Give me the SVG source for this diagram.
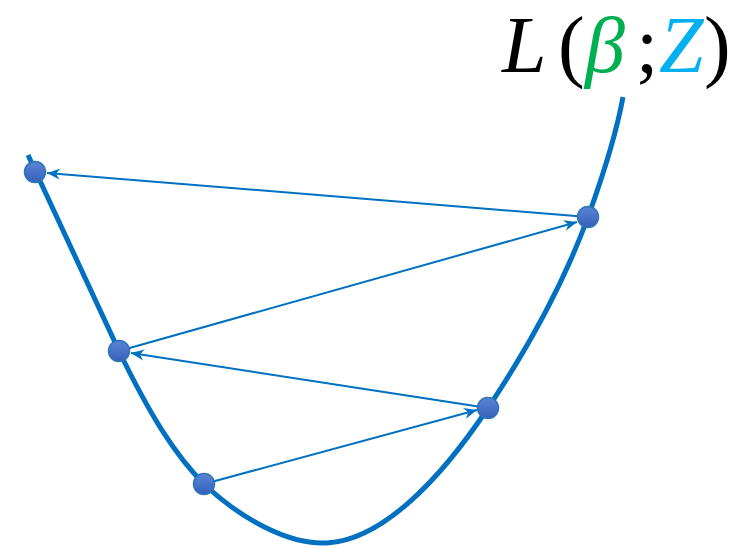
<svg xmlns="http://www.w3.org/2000/svg" width="740" height="548" viewBox="0 0 740 548">
<style>
.curve{fill:none;stroke:#0070C0;stroke-width:5;stroke-linecap:butt}
.arrow{fill:none;stroke:#0070C0;stroke-width:2;marker-end:url(#ah)}
.ball{fill:url(#bg);stroke:#2E75B6;stroke-width:1.5}
.t{font-family:"Liberation Serif","DejaVu Serif",serif;font-size:80px}
.i{font-style:italic}
</style>
<defs>
<linearGradient id="bg" x1="0" y1="0" x2="0" y2="1">
<stop offset="0" stop-color="#5A85D8"/>
<stop offset="1" stop-color="#3560B8"/>
</linearGradient>
<marker id="ah" markerUnits="userSpaceOnUse" markerWidth="14" markerHeight="12" refX="13" refY="6" orient="auto">
<path d="M0,0.5 L13,6 L0,11.5 L4,6 z" fill="#0070C0"/>
</marker>
</defs>
<g id="curve">
<path class="curve" d="M28,155 C60,225 90,290 119,351 C150,415 175,455 204,484 C240,518 288,545 327,543 C382,540 440,480 488,408 C530,345 565,280 588,217 C605,170 617,130 623,97"/>
</g>
<g id="connectors">
<line class="arrow" x1="588" y1="217" x2="47" y2="173"/>
<line class="arrow" x1="119" y1="351" x2="577" y2="222"/>
<line class="arrow" x1="488" y1="408" x2="131" y2="353"/>
<line class="arrow" x1="204" y1="484" x2="477" y2="410"/>
</g>
<g id="p1"><circle class="ball" cx="35" cy="172" r="10.5"/></g>
<g id="p2"><circle class="ball" cx="588" cy="217" r="10.5"/></g>
<g id="p3"><circle class="ball" cx="119" cy="351" r="10.5"/></g>
<g id="p4"><circle class="ball" cx="488" cy="408" r="10.5"/></g>
<g id="p5"><circle class="ball" cx="204" cy="484" r="10.5"/></g>
<g id="label">
<text class="t" y="72"><tspan class="i" x="502" fill="#000">L</tspan><tspan x="558" fill="#000">(</tspan><tspan class="i" x="585" fill="#00B050">β</tspan><tspan x="636" fill="#000">;</tspan><tspan class="i" x="659" fill="#00B0F0">Z</tspan><tspan x="704" fill="#000">)</tspan></text>
</g>
</svg>
